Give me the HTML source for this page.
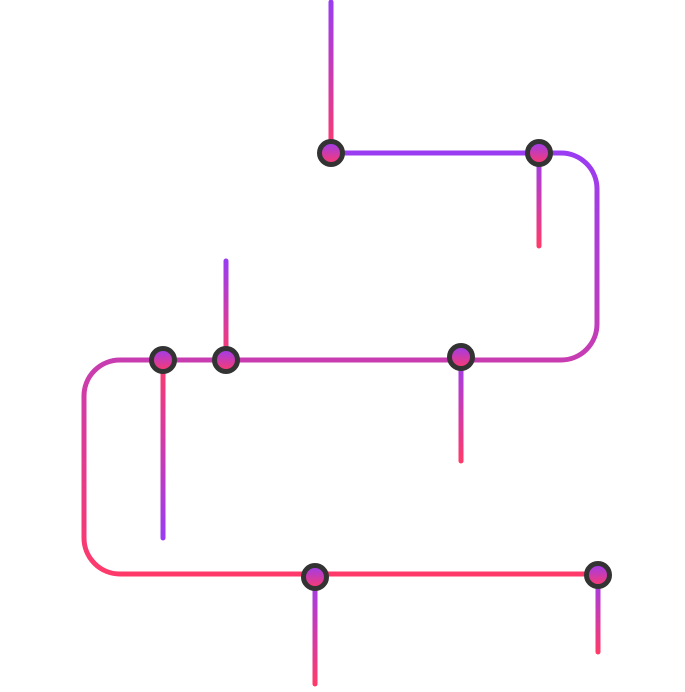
<!DOCTYPE html>
<html><head><style>html,body{margin:0;padding:0;background:#fff}svg{display:block}</style></head>
<body>
<svg width="685" height="692" viewBox="0 0 685 692" xmlns="http://www.w3.org/2000/svg">
<defs>
<linearGradient id="main" gradientUnits="userSpaceOnUse" x1="0" y1="153" x2="0" y2="574">
<stop offset="0" stop-color="#9a3cf2"/><stop offset="0.5" stop-color="#c83cb0"/><stop offset="1" stop-color="#ff3a6a"/>
</linearGradient>
<linearGradient id="down" x1="0" y1="0" x2="0" y2="1">
<stop offset="0" stop-color="#9a3cf2"/><stop offset="1" stop-color="#ff3a6a"/>
</linearGradient>
<linearGradient id="node" x1="0" y1="0" x2="0" y2="1">
<stop offset="0" stop-color="#9a3cf2"/><stop offset="1" stop-color="#ff3a6a"/>
</linearGradient>
<linearGradient id="s1" gradientUnits="userSpaceOnUse" x1="0" y1="2" x2="0" y2="153"><stop offset="0" stop-color="#9a3cf2"/><stop offset="1" stop-color="#ff3a6a"/></linearGradient>
<linearGradient id="s2" gradientUnits="userSpaceOnUse" x1="0" y1="153" x2="0" y2="246"><stop offset="0" stop-color="#9a3cf2"/><stop offset="1" stop-color="#ff3a6a"/></linearGradient>
<linearGradient id="s3" gradientUnits="userSpaceOnUse" x1="0" y1="261" x2="0" y2="360"><stop offset="0" stop-color="#9a3cf2"/><stop offset="1" stop-color="#ff3a6a"/></linearGradient>
<linearGradient id="s4" gradientUnits="userSpaceOnUse" x1="0" y1="360" x2="0" y2="538"><stop offset="0" stop-color="#ff3a6a"/><stop offset="1" stop-color="#9a3cf2"/></linearGradient>
<linearGradient id="s5" gradientUnits="userSpaceOnUse" x1="0" y1="357" x2="0" y2="461"><stop offset="0" stop-color="#9a3cf2"/><stop offset="1" stop-color="#ff3a6a"/></linearGradient>
<linearGradient id="s6" gradientUnits="userSpaceOnUse" x1="0" y1="577" x2="0" y2="684"><stop offset="0" stop-color="#9a3cf2"/><stop offset="1" stop-color="#ff3a6a"/></linearGradient>
<linearGradient id="s7" gradientUnits="userSpaceOnUse" x1="0" y1="575" x2="0" y2="652"><stop offset="0" stop-color="#9a3cf2"/><stop offset="1" stop-color="#ff3a6a"/></linearGradient>
</defs>
<g fill="none" stroke-width="5" stroke-linecap="round">
<path d="M331 153 H561 A36 36 0 0 1 597 189 V324 A36 36 0 0 1 561 360 H120 A36 36 0 0 0 84 396 V538 A36 36 0 0 0 120 574 H598" stroke="url(#main)"/>
<line x1="331" y1="2" x2="331" y2="153" stroke="url(#s1)"/>
<line x1="539" y1="153" x2="539" y2="246" stroke="url(#s2)"/>
<line x1="226" y1="261" x2="226" y2="360" stroke="url(#s3)"/>
<line x1="163" y1="538" x2="163" y2="360" stroke="url(#s4)"/>
<line x1="461" y1="357" x2="461" y2="461" stroke="url(#s5)"/>
<line x1="315" y1="577" x2="315" y2="684" stroke="url(#s6)"/>
<line x1="598" y1="575" x2="598" y2="652" stroke="url(#s7)"/>
</g>
<g stroke="#333" stroke-width="5" fill="url(#node)">
<circle cx="331" cy="153" r="11.5"/>
<circle cx="539" cy="153" r="11.5"/>
<circle cx="163" cy="360" r="11.5"/>
<circle cx="226" cy="360" r="11.5"/>
<circle cx="461" cy="357" r="11.5"/>
<circle cx="315" cy="577" r="11.5"/>
<circle cx="598" cy="575" r="11.5"/>
</g>
</svg>
</body></html>
